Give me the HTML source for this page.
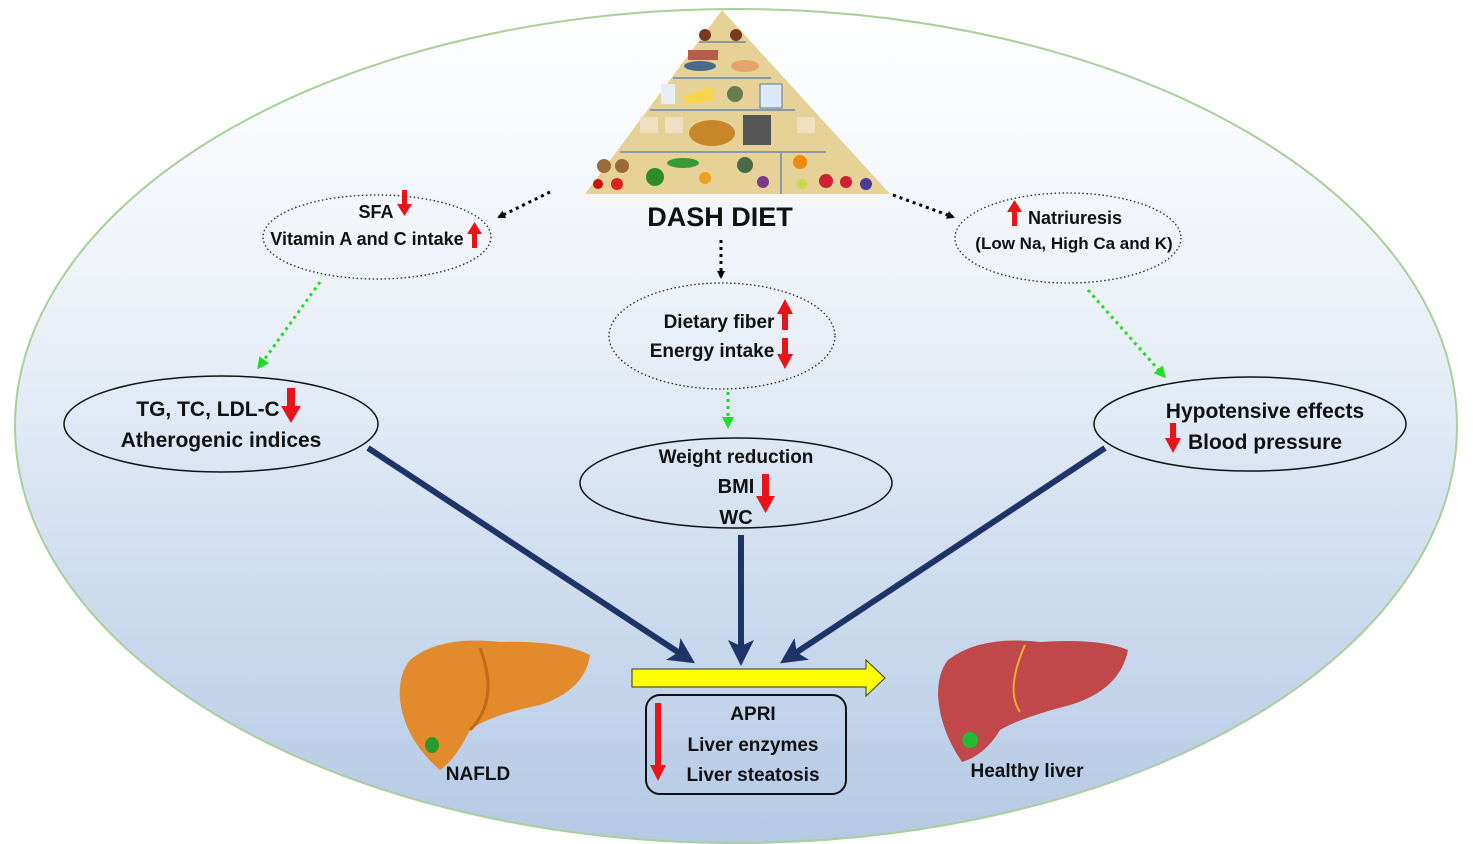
<!DOCTYPE html><html><head><style>body{margin:0;background:#fff}svg{display:block}text{font-family:"Liberation Sans",sans-serif;font-weight:bold;fill:#111}</style></head><body>
<svg width="1473" height="844" viewBox="0 0 1473 844" xmlns="http://www.w3.org/2000/svg">
<defs>
<linearGradient id="bg" x1="0" y1="0" x2="0" y2="1"><stop offset="0" stop-color="#ffffff"/><stop offset="0.35" stop-color="#edf2f9"/><stop offset="1" stop-color="#b4c9e5"/></linearGradient>
<marker id="ab" markerWidth="8" markerHeight="8" refX="6" refY="4" orient="auto" markerUnits="userSpaceOnUse"><path d="M0,0L8,4L0,8z" fill="#000"/></marker>
<marker id="ag" markerWidth="12" markerHeight="12" refX="9" refY="6" orient="auto" markerUnits="userSpaceOnUse"><path d="M0,0L12,6L0,12z" fill="#22dd22"/></marker>
<marker id="an" markerWidth="26" markerHeight="26" refX="20" refY="13" orient="auto" markerUnits="userSpaceOnUse"><path d="M0,0L26,13L0,26L6,13z" fill="#1c3468"/></marker>
</defs>
<ellipse cx="736" cy="426" rx="721" ry="417" fill="url(#bg)" stroke="#a9cf9a" stroke-width="2"/>
<!-- pyramid -->
<polygon points="722,10 585,194 890,194" fill="#e6d196"/>
<g stroke="#8a9aa8" stroke-width="2">
<line x1="699" y1="42" x2="746" y2="42"/><line x1="673" y1="78" x2="771" y2="78"/><line x1="650" y1="110" x2="795" y2="110"/><line x1="620" y1="152" x2="826" y2="152"/><line x1="781" y1="152" x2="781" y2="194"/></g>
<g>
<circle cx="705" cy="35" r="6" fill="#7a3a20"/><circle cx="736" cy="35" r="6" fill="#7a3a20"/>
<rect x="688" y="50" width="30" height="10" fill="#b85b4b"/><ellipse cx="700" cy="66" rx="16" ry="5" fill="#4a6a8a"/><ellipse cx="745" cy="66" rx="14" ry="6" fill="#e5a56a"/>
<rect x="661" y="84" width="14" height="20" fill="#e8eef8"/><polygon points="684,96 712,86 714,100 686,104" fill="#f8d44a"/><circle cx="735" cy="94" r="8" fill="#6a7a50"/><rect x="760" y="84" width="22" height="24" fill="#dde8f8" stroke="#5577aa"/>
<ellipse cx="712" cy="133" rx="23" ry="13" fill="#c8862a"/><rect x="743" y="115" width="28" height="30" fill="#555"/>
<rect x="640" y="117" width="18" height="16" fill="#eee0c0"/><rect x="665" y="117" width="18" height="16" fill="#eee0c0"/><rect x="797" y="117" width="18" height="16" fill="#eee0c0"/>
<circle cx="598" cy="184" r="5" fill="#cc1111"/><circle cx="617" cy="184" r="6" fill="#dd2222"/><circle cx="604" cy="166" r="7" fill="#9a6a3a"/><circle cx="622" cy="166" r="7" fill="#9a6a3a"/>
<ellipse cx="655" cy="177" rx="9" ry="9" fill="#2d8a2d"/><ellipse cx="683" cy="163" rx="16" ry="5" fill="#3a9a3a"/><circle cx="705" cy="178" r="6" fill="#f0a020"/><circle cx="745" cy="165" r="8" fill="#4a6a4a"/><circle cx="763" cy="182" r="6" fill="#7a3a8a"/>
<circle cx="800" cy="162" r="7" fill="#f08a10"/><circle cx="826" cy="181" r="7" fill="#cc2233"/><circle cx="846" cy="182" r="6" fill="#cc2233"/><circle cx="866" cy="184" r="6" fill="#4a3a9a"/><circle cx="802" cy="184" r="5" fill="#c8d850"/></g>
<text x="720" y="226" font-size="27" text-anchor="middle">DASH DIET</text>
<!-- dotted ellipses -->
<g fill="none" stroke="#222" stroke-width="1.3" stroke-dasharray="1.5,2.5">
<ellipse cx="377" cy="237" rx="114" ry="42"/><ellipse cx="1068" cy="238" rx="113" ry="45"/><ellipse cx="722" cy="336" rx="113" ry="53"/></g>
<g fill="none" stroke="#111" stroke-width="1.5">
<ellipse cx="221" cy="424" rx="157" ry="48"/><ellipse cx="736" cy="483" rx="156" ry="45"/><ellipse cx="1250" cy="424" rx="156" ry="47"/>
<rect x="646" y="695" width="200" height="99" rx="14" stroke-width="2"/></g>
<!-- dotted arrows -->
<g stroke="#000" stroke-width="3" stroke-dasharray="3,4" fill="none" marker-end="url(#ab)">
<line x1="550" y1="192" x2="499" y2="217"/><line x1="721" y1="240" x2="721" y2="277"/><line x1="893" y1="195" x2="953" y2="217"/></g>
<g stroke="#22dd22" stroke-width="3" stroke-dasharray="3,4" fill="none" marker-end="url(#ag)">
<line x1="320" y1="282" x2="259" y2="367"/><line x1="728" y1="392" x2="728" y2="426"/><line x1="1088" y1="290" x2="1164" y2="376"/></g>
<g stroke="#1c3468" stroke-width="6" marker-end="url(#an)">
<line x1="368" y1="448" x2="690" y2="660"/><line x1="741" y1="535" x2="741" y2="660"/><line x1="1105" y1="448" x2="785" y2="660"/></g>
<polygon points="632,669 866,669 866,660 885,678 866,696 866,687 632,687" fill="#ffff00" stroke="#333" stroke-width="1"/>
<!-- red arrows -->
<g fill="#e8141a">
<path d="M402,190h5v14h5l-7.5,12l-7.5,-12h5z"/>
<path d="M472,248h5v-14h5l-7.5,-12l-7.5,12h5z"/>
<path d="M1012,226h5v-14h5l-7.5,-12l-7.5,12h5z"/>
<path d="M782,330h6v-16h5l-8,-15l-8,15h5z"/>
<path d="M782,338h6v16h5l-8,15l-8,-15h5z"/>
<path d="M287,388h8v18h6l-10,17l-10,-17h6z"/>
<path d="M762,474h7v22h6l-9.5,17l-9.5,-17h6z"/>
<path d="M1170,423h6v15h5l-8,15l-8,-15h5z"/>
<path d="M655,703h6v62h5l-8,16l-8,-16h5z"/></g>
<g font-size="19">
<text x="376" y="218" text-anchor="middle" font-size="18">SFA</text>
<text x="367" y="245" text-anchor="middle" font-size="18">Vitamin A and C intake</text>
<text x="1075" y="224" text-anchor="middle" font-size="18">Natriuresis</text>
<text x="1074" y="249" text-anchor="middle" font-size="17">(Low Na, High Ca and K)</text>
<text x="719" y="328" text-anchor="middle">Dietary fiber</text>
<text x="712" y="357" text-anchor="middle">Energy intake</text>
<text x="208" y="416" text-anchor="middle" font-size="21">TG, TC, LDL-C</text>
<text x="221" y="447" text-anchor="middle" font-size="21">Atherogenic indices</text>
<text x="736" y="463" text-anchor="middle">Weight reduction</text>
<text x="736" y="493" text-anchor="middle" font-size="20">BMI</text>
<text x="736" y="524" text-anchor="middle" font-size="20">WC</text>
<text x="1265" y="418" text-anchor="middle" font-size="21">Hypotensive effects</text>
<text x="1265" y="449" text-anchor="middle" font-size="21">Blood pressure</text>
<text x="753" y="720" text-anchor="middle">APRI</text>
<text x="753" y="751" text-anchor="middle">Liver enzymes</text>
<text x="753" y="781" text-anchor="middle">Liver steatosis</text>
<text x="478" y="780" text-anchor="middle">NAFLD</text>
<text x="1027" y="777" text-anchor="middle">Healthy liver</text></g>
<!-- livers -->
<path d="M410,660 Q440,635 500,642 Q560,640 590,655 Q585,690 540,705 Q490,715 470,730 Q455,760 440,770 Q405,740 400,700 Q398,675 410,660z" fill="#e38a2c"/>
<path d="M480,648 Q500,700 470,730" stroke="#c06a1a" stroke-width="3" fill="none"/>
<ellipse cx="432" cy="745" rx="7" ry="8" fill="#2a9a2a"/>
<path d="M948,660 Q980,635 1040,642 Q1100,638 1128,650 Q1120,690 1070,705 Q1020,718 1000,730 Q985,755 962,762 Q940,730 938,695 Q938,672 948,660z" fill="#c0474a"/>
<path d="M1025,645 Q1005,690 1020,712" stroke="#f0b030" stroke-width="2" fill="none"/>
<ellipse cx="970" cy="740" rx="8" ry="8" fill="#22bb33"/>
</svg></body></html>
